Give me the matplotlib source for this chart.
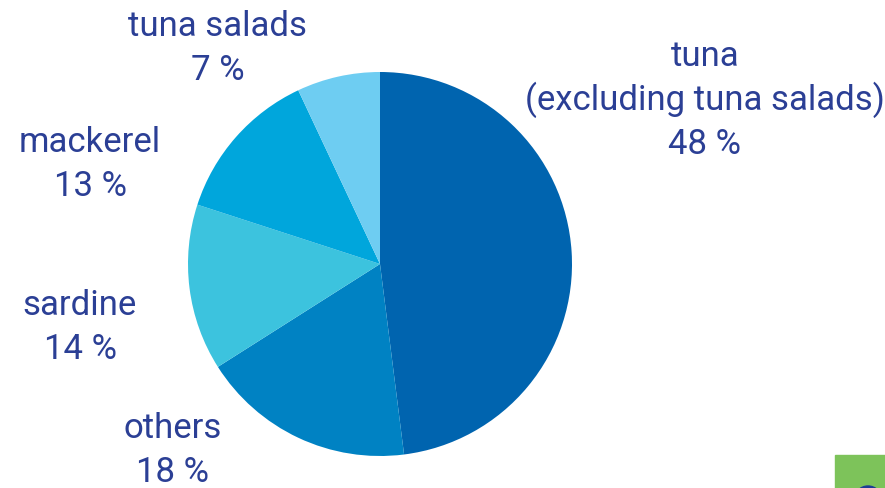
import matplotlib
matplotlib.use("Agg")
import matplotlib.pyplot as plt
from matplotlib.patches import Rectangle, Circle

categories = ["tuna\n(excluding tuna salads)", "others", "sardine", "mackerel", "tuna salads"]
values = [48, 18, 14, 13, 7]
colors = ["#0064AF", "#0082C3", "#3CC3DE", "#00A6DC", "#6ECDF2"]
# label centre x and first-line baseline (image pixel coords)
label_pos = [(705, 66), (173, 438), (80, 315), (90, 152), (218, 36)]

W, H = 885, 488
fig = plt.figure(figsize=(W / 100, H / 100), dpi=100)
ax = fig.add_axes([0, 0, 1, 1])

ax.pie(values, colors=colors, startangle=90, counterclock=False,
       center=(380, H - 264), radius=192, frame=True,
       wedgeprops=dict(linewidth=0))
ax.set_xlim(0, W)
ax.set_ylim(0, H)
ax.set_aspect("equal")
ax.axis("off")

txt_color = "#2B3F95"
step = 43.8
for cat, v, (x, y) in zip(categories, values, label_pos):
    lines = cat.split("\n") + [f"{v} %"]
    for i, ln in enumerate(lines):
        ax.text(x, H - (y + i * step), ln, ha="center", va="baseline",
                fontsize=25, color=txt_color, family="Roboto")

ax.add_patch(Rectangle((835, 0), 50, 33, color="#7DC35A", zorder=5))
ax.add_patch(Circle((868, -12), 14, color="#1E3C96", zorder=6, clip_on=True))

fig.savefig("out.png", dpi=100)
